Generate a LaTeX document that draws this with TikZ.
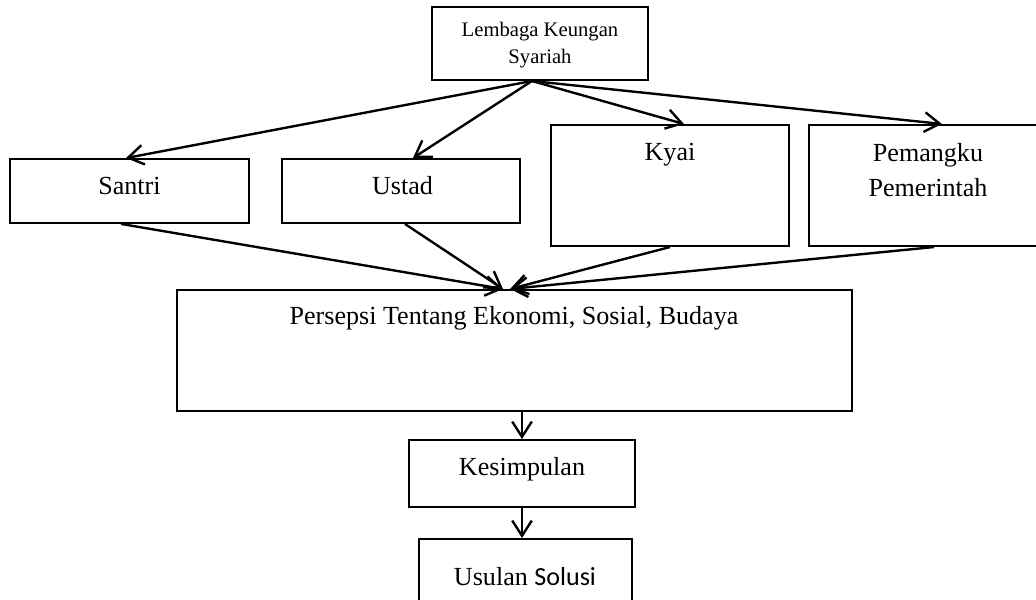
\documentclass[tikz,border=0pt]{standalone}
\usepackage{fontspec}
\setmainfont{Liberation Serif}
\newfontfamily\calibrifont{Carlito}
\usetikzlibrary{arrows.meta}

\begin{document}
\begin{tikzpicture}[x=0.46pt, y=-0.46pt, % 1 unit = 1 pixel of the picture
  box/.style={draw, line width=0.9pt, inner sep=0pt},
  txt/.style={font=\fontsize{12}{16.1}\selectfont, align=center, inner sep=0pt},
  arr/.style={line width=1.1pt, -{Straight Barb[length=7pt, width=9pt, line width=1.1pt]}}]
  \useasboundingbox (0,0) rectangle (1036,600);
  \clip (0,0) rectangle (1036,600); % the bottom and right boxes run off the page

  % boxes
  \node[box, minimum width=99.4pt, minimum height=33.6pt] (lks) at (540,43.5) {};
  \node[box, minimum width=109.9pt, minimum height=29.4pt] (santri) at (129.5,191) {};
  \node[box, minimum width=109.5pt, minimum height=29.4pt] (ustad) at (401,191) {};
  \node[box, minimum width=109.5pt, minimum height=55.7pt] (kyai) at (670,185.5) {};
  \node[box, minimum width=109.5pt, minimum height=55.7pt] (pemangku) at (928,185.5) {};
  \node[box, minimum width=310.5pt, minimum height=55.7pt] (persepsi) at (514.5,350.5) {};
  \node[box, minimum width=104pt, minimum height=30.8pt] (kesimpulan) at (522,473.5) {};
  \node[box, minimum width=98pt, minimum height=32.2pt] (usulan) at (525.5,574) {};

  % texts
  \node[txt, font=\fontsize{9.5}{12.4}\selectfont] (lks-t) at (540,45) {Lembaga Keungan\\Syariah};
  \node[txt, anchor=base] (santri-t) at (129.5,195) {Santri};
  \node[txt, anchor=base] (ustad-t) at (402.5,195) {Ustad};
  \node[txt, anchor=base] (kyai-t) at (670,161) {Kyai};
  \node[txt] (pemangku-t) at (928,170) {Pemangku\\Pemerintah};
  \node[txt, anchor=base] (persepsi-t) at (514,325) {Persepsi Tentang Ekonomi, Sosial, Budaya};
  \node[txt, anchor=base] (kesimpulan-t) at (522,476) {Kesimpulan};
  \node[txt, anchor=base] (usulan-t) at (525,586) {Usulan {\calibrifont Solusi}};

  % arrows
  \coordinate (lks-out) at ([xshift=-3.7pt]lks.south);
  \draw[arr] (lks-out) -- ([xshift=-1.6pt]santri.north);
  \draw[arr] (lks-out) -- ([xshift=5.5pt]ustad.north);
  \draw[arr] (lks-out) -- ([xshift=6.4pt]kyai.north);
  \draw[arr] (lks-out) -- ([xshift=6.4pt]pemangku.north);

  \coordinate (in-l) at ([xshift=-5.3pt]persepsi.north);
  \coordinate (in-r) at ([xshift=-2pt]persepsi.north);
  \draw[arr] ([xshift=-3.9pt]santri.south) -- (in-l);
  \draw[arr] ([xshift=1.8pt]ustad.south) -- (in-l);
  \draw[arr] (kyai.south) -- (in-r);
  \draw[arr] ([xshift=2.8pt]pemangku.south) -- (in-r);

  \draw[arr] (kesimpulan.north |- persepsi.south) -- (kesimpulan.north);
  \draw[arr] (kesimpulan.south) -- (kesimpulan.south |- usulan.north);
\end{tikzpicture}
\end{document}
